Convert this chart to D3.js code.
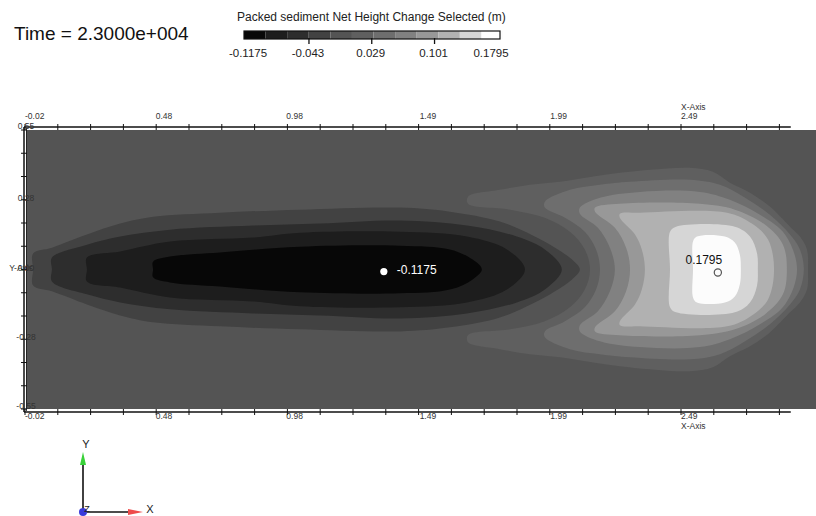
<!DOCTYPE html>
<html><head><meta charset="utf-8">
<script src="https://cdn.jsdelivr.net/npm/d3@7"></script>
<style>body{margin:0;background:#fff;} svg{display:block;font-family:"Liberation Sans",Arial,sans-serif;}</style>
</head><body><svg id="c" width="816" height="516"></svg>
<script>
// ---------- data ----------
const timeLabel = "Time = 2.3000e+004";
const legendTitle = "Packed sediment Net Height Change Selected (m)";
const bandEdges = [-0.1175,-0.0928,-0.068,-0.0433,-0.0185,0.0063,0.031,0.0558,0.0805,0.1053,0.13,0.1548,0.1795];
const bandColors = ["#070707","#1d1d1d","#2d2d2d","#424242","#545454","#5f5f5f","#6e6e6e","#818181","#989898","#b1b1b1","#d6d6d6","#fcfcfc"];
const legendTickValues = [-0.1175,-0.043,0.029,0.101,0.1795];
const legendTickLabels = ["-0.1175","-0.043","0.029","0.101","0.1795"];
const xTickValues = [-0.02,0.48,0.98,1.49,1.99,2.49];
const xTickLabels = ["-0.02","0.48","0.98","1.49","1.99","2.49"];
const yTickValues = [0.55,0.275,0,-0.275,-0.55];
const yTickLabels = ["0.55","0.28","0.00","-0.28","-0.55"];
const backgroundBand = 4;
// upper-half outlines (x, y>=0), mirrored about y = 0
const darkBands = [3,2,1,0];
const darkOutlines = [
 [[0.011,0],[0.011,0.063],[0.083,0.086],[0.217,0.138],[0.344,0.181],[0.470,0.208],[0.726,0.224],[1.032,0.236],[1.415,0.244],[1.606,0.228],[1.797,0.189],[1.923,0.134],[2.008,0.086],[2.073,0.039],[2.103,0]],
 [[0.083,0],[0.083,0.047],[0.217,0.098],[0.344,0.130],[0.535,0.157],[0.852,0.173],[1.109,0.181],[1.415,0.193],[1.671,0.173],[1.862,0.130],[1.969,0.079],[2.034,0]],
 [[0.217,0],[0.217,0.047],[0.344,0.071],[0.535,0.110],[0.852,0.126],[1.032,0.145],[1.415,0.149],[1.671,0.130],[1.824,0.079],[1.893,0]],
 [[0.470,0],[0.470,0.031],[0.535,0.051],[0.726,0.067],[1.032,0.090],[1.415,0.094],[1.606,0.079],[1.693,0.039],[1.728,0]]
];
const brightBands = [5,6,7,8,9,10,11];
const brightOutlines = [
 [[2.142,0],[2.122,0.079],[2.065,0.149],[1.969,0.204],[1.836,0.236],[1.675,0.259],[1.675,0.287],[1.797,0.314],[1.912,0.334],[2.027,0.346],[2.142,0.365],[2.256,0.381],[2.371,0.393],[2.524,0.401],[2.612,0.385],[2.677,0.342],[2.754,0.303],[2.830,0.248],[2.907,0.169],[2.945,0.130],[2.972,0.079],[2.976,0]],
 [[2.180,0],[2.165,0.079],[2.122,0.149],[2.046,0.204],[1.969,0.244],[1.969,0.267],[2.065,0.314],[2.180,0.334],[2.295,0.346],[2.524,0.354],[2.639,0.334],[2.735,0.283],[2.830,0.216],[2.907,0.138],[2.945,0.079],[2.960,0]],
 [[2.237,0],[2.218,0.086],[2.172,0.165],[2.103,0.220],[2.103,0.244],[2.180,0.283],[2.333,0.306],[2.562,0.306],[2.677,0.275],[2.792,0.216],[2.888,0.138],[2.934,0]],
 [[2.295,0],[2.280,0.086],[2.237,0.165],[2.161,0.228],[2.161,0.244],[2.256,0.259],[2.562,0.259],[2.696,0.236],[2.811,0.177],[2.880,0.098],[2.895,0]],
 [[2.352,0],[2.340,0.079],[2.314,0.138],[2.256,0.204],[2.256,0.220],[2.333,0.224],[2.666,0.224],[2.761,0.181],[2.823,0.118],[2.846,0]],
 [[2.448,0],[2.448,0.149],[2.471,0.169],[2.696,0.169],[2.754,0.130],[2.781,0.063],[2.784,0]],
 [[2.536,0],[2.536,0.110],[2.551,0.130],[2.658,0.130],[2.696,0.106],[2.715,0.059],[2.719,0]]
];
const minPoint = {x:1.353, y:-0.008, label:"-0.1175"};
const maxPoint = {x:2.631, y:-0.012, label:"0.1795"};

// ---------- scales ----------
const svg = d3.select("#c");
const x = d3.scaleLinear().domain([-0.02, 2.49]).range([25, 681]);
const y = d3.scaleLinear().domain([-0.55, 0.55]).range([409, 130]);
const xDomainEnd = 3.01, xAxisEnd = 2.91;
const cx = d3.scaleLinear().domain([bandEdges[0], bandEdges[bandEdges.length-1]]).range([244, 503]);

// title
svg.append("text").attr("x",14).attr("y",40).attr("font-size",19).attr("fill","#111").text(timeLabel);
// legend
svg.append("text").attr("x",237).attr("y",21).attr("font-size",12).attr("fill","#222").text(legendTitle);
const lg = svg.append("g");
lg.selectAll("rect.b").data(bandColors).join("rect")
  .attr("x",(d,i)=>cx(bandEdges[i])).attr("width",(d,i)=>cx(bandEdges[i+1])-cx(bandEdges[i]))
  .attr("y",31).attr("height",8).attr("fill",d=>d);
lg.append("rect").attr("x",cx.range()[0]).attr("y",31).attr("width",cx.range()[1]-cx.range()[0]-3).attr("height",8)
  .attr("fill","none").attr("stroke","#111").attr("stroke-width",1.2);
lg.selectAll("line.t").data(legendTickValues.slice(1,-1)).join("line")
  .attr("x1",d=>cx(d)).attr("x2",d=>cx(d)).attr("y1",38).attr("y2",44).attr("stroke","#111").attr("stroke-width",1.3);
lg.selectAll("text.l").data(legendTickValues).join("text")
  .attr("x",(d,i)=> i===0 ? cx(d)+4 : (i===legendTickValues.length-1 ? cx(d)-12 : cx(d)-1))
  .attr("y",57).attr("text-anchor","middle").attr("font-size",11.5).attr("fill","#222")
  .text((d,i)=>legendTickLabels[i]);

// plot field
const plot = svg.append("g");
plot.append("rect").attr("x",x(-0.0155)).attr("y",y(0.55)).attr("width",x(xDomainEnd)-x(-0.0155))
  .attr("height",y(-0.55)-y(0.55)).attr("fill",bandColors[backgroundBand]);
const line = d3.line().x(d=>x(d[0])).y(d=>y(d[1])).curve(d3.curveCatmullRomClosed.alpha(0.5));
function ring(up){ return up.concat(up.slice(1,-1).reverse().map(p=>[p[0],-p[1]])); }
plot.selectAll("path.br").data(brightOutlines).join("path")
  .attr("d",d=>line(ring(d))).attr("fill",(d,i)=>bandColors[brightBands[i]]);
plot.selectAll("path.dk").data(darkOutlines).join("path")
  .attr("d",d=>line(ring(d))).attr("fill",(d,i)=>bandColors[darkBands[i]]);

// markers
plot.append("circle").attr("cx",x(minPoint.x)).attr("cy",y(minPoint.y)).attr("r",3.6).attr("fill","#fff");
plot.append("text").attr("x",x(minPoint.x)+13).attr("y",y(minPoint.y)+2).attr("font-size",12).attr("fill","#fff").text(minPoint.label);
plot.append("circle").attr("cx",x(maxPoint.x)).attr("cy",y(maxPoint.y)).attr("r",3.6).attr("fill","none").attr("stroke","#555").attr("stroke-width",1.2);
plot.append("text").attr("x",x(maxPoint.x)-14).attr("y",y(maxPoint.y)-9).attr("text-anchor","middle").attr("font-size",12).attr("fill","#111").text(maxPoint.label);

// axes
const ax = svg.append("g").attr("stroke","#111");
const topY = y(0.55)-3, botY = y(-0.55)+3, leftX = x(-0.02)-1;
ax.append("line").attr("x1",leftX).attr("x2",x(xAxisEnd)).attr("y1",topY).attr("y2",topY).attr("stroke-width",1.5);
ax.append("line").attr("x1",leftX).attr("x2",x(xAxisEnd)).attr("y1",botY).attr("y2",botY).attr("stroke-width",1.5);
ax.append("line").attr("x1",leftX).attr("x2",leftX).attr("y1",topY).attr("y2",botY).attr("stroke-width",1.5);
ax.append("line").attr("x1",leftX+2.5).attr("x2",leftX+2.5).attr("y1",topY+1).attr("y2",botY-1).attr("stroke-width",0.8);
const xMinor = d3.range(0,24).map(k=>xTickValues[0]+k*(xTickValues[5]-xTickValues[0])/20);
xMinor.forEach(v=>{
  ax.append("line").attr("x1",x(v)).attr("x2",x(v)).attr("y1",topY-3).attr("y2",topY+3).attr("stroke-width",1);
  ax.append("line").attr("x1",x(v)).attr("x2",x(v)).attr("y1",botY-3).attr("y2",botY+3).attr("stroke-width",1);
});
const yMinor = d3.range(-6,7).map(k=>k*0.55/6);
yMinor.forEach(v=>{
  ax.append("line").attr("x1",leftX-3).attr("x2",leftX+3).attr("y1",y(v)).attr("y2",y(v)).attr("stroke-width",1);
});
const lab = svg.append("g").attr("font-size",8.5).attr("fill","#333");
xTickValues.forEach((v,i)=>{
  lab.append("text").attr("x",x(v)).attr("y",topY-8).text(xTickLabels[i]);
  lab.append("text").attr("x",x(v)).attr("y",botY+7).text(xTickLabels[i]);
});
lab.append("text").attr("x",x(xTickValues[5])).attr("y",topY-17).text("X-Axis");
lab.append("text").attr("x",x(xTickValues[5])).attr("y",botY+17).text("X-Axis");
yTickValues.forEach((v,i)=>{
  lab.append("text").attr("x",leftX+2).attr("y",y(v)+ (i===0?-1:(i===4?0:1))).attr("text-anchor","middle").text(yTickLabels[i]);
});
lab.append("text").attr("x",leftX+9).attr("y",y(0)+1).attr("text-anchor","end").text("Y-Axis");

// axis triad
const tri = svg.append("g");
const ox = 83, oy = 512;
tri.append("line").attr("x1",ox).attr("y1",oy).attr("x2",ox).attr("y2",462).attr("stroke","#111").attr("stroke-width",1.6);
tri.append("line").attr("x1",ox).attr("y1",oy).attr("x2",132).attr("y2",oy).attr("stroke","#111").attr("stroke-width",1.6);
tri.append("path").attr("d",`M${ox-3},465 L${ox},452 L${ox+3},465 Z`).attr("fill","#39d139");
tri.append("path").attr("d",`M128,${oy-3} L143,${oy} L128,${oy+3} Z`).attr("fill","#ee4b4b");
tri.append("circle").attr("cx",ox).attr("cy",oy).attr("r",4).attr("fill","#3a3adb");
tri.append("text").attr("x",86).attr("y",448).attr("font-size",11).attr("text-anchor","middle").attr("fill","#222").text("Y");
tri.append("text").attr("x",150).attr("y",513).attr("font-size",11).attr("text-anchor","middle").attr("fill","#222").text("X");
tri.append("text").attr("x",87).attr("y",512).attr("font-size",9).attr("text-anchor","middle").attr("fill","#222").text("Z");
</script></body></html>
